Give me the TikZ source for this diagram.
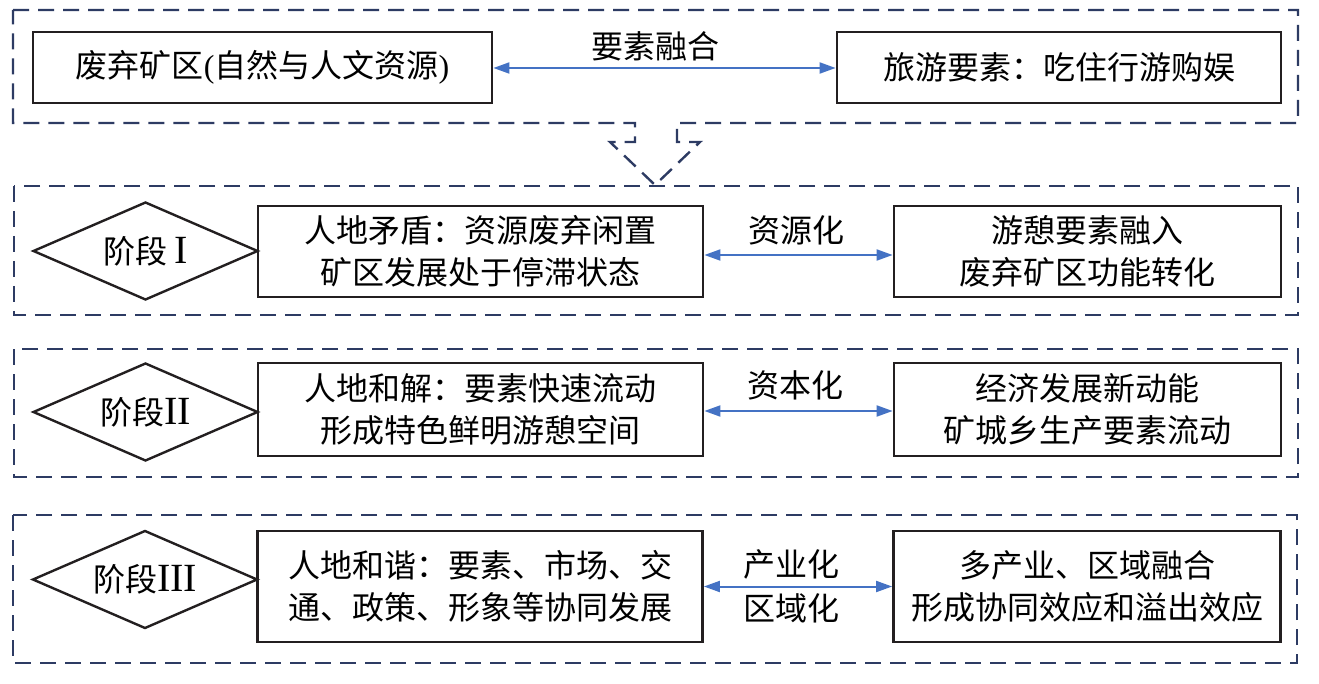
\documentclass[tikz,border=0pt]{standalone}
\usepackage{fontspec}
\setmainfont{Liberation Serif}
\newfontfamily\cjk{Noto Sans CJK SC}
\usetikzlibrary{shapes.geometric,arrows.meta}
\definecolor{navy}{HTML}{2D3B63}
\definecolor{boxline}{HTML}{231F20}
\definecolor{arrowblue}{HTML}{4472C4}
\newcommand{\romnum}[1]{{\rmfamily\fontsize{40}{42}\selectfont #1}}
\begin{document}
\begin{tikzpicture}[x=1pt,y=-1pt,
  frame/.style={draw=navy,line width=2.4pt,dash pattern=on 16pt off 9pt},
  txt/.style={font=\cjk\fontsize{32}{42}\selectfont,text=black},
  box/.style n args={2}{draw=boxline,line width=2.8pt,minimum width=#1,minimum height=#2,inner sep=0pt,align=center,txt},
  stage/.style={diamond,draw=boxline,line width=2.4pt,minimum width=225pt,minimum height=98pt,inner sep=0pt},
  biarrow/.style={draw=arrowblue,line width=2pt,{Triangle[length=16pt,width=11pt]}-{Triangle[length=16pt,width=11pt]}},
  lab/.style={txt,inner sep=0pt}
]
\useasboundingbox (0,0) rectangle (1319,684);
\fill[white] (0,0) rectangle (1319,684);

% frames
\draw[frame] (13,10) -- (1298,10) -- (1298,123) -- (677,123) -- (677,142) -- (700,142)
  -- (655,185) -- (610,142) -- (635,142) -- (635,123) -- (13,123) -- cycle;
\draw[frame] (14,186) rectangle (1298,315);
\draw[frame] (14,349) rectangle (1298,477);
\draw[frame] (13,515) rectangle (1297,663);

% top row
\node[box={459pt}{71pt}] (src) at (262.5,67.5) {废弃矿区{\rmfamily(}自然与人文资源{\rmfamily)}};
\node[box={444pt}{71pt}] (tour) at (1059,67.5) {旅游要素：吃住行游购娱};
\draw[biarrow] ([yshift=-0.5pt]src.east) -- ([yshift=-0.5pt]tour.west);
\node[lab] (l0) at (655,46) {要素融合};

% stage I
\node[stage] (s1) at (145.5,251) {};
\node[lab] (s1t) at (s1.center) {阶段 \romnum{I}};
\node[box={445pt}{91pt}] (m1) at (480.5,251.5) {人地矛盾：资源废弃闲置\\矿区发展处于停滞状态};
\node[box={387pt}{91pt}] (r1) at (1087.5,251.5) {游憩要素融入\\废弃矿区功能转化};
\draw[biarrow] ([yshift=-3.5pt]m1.east) -- ([yshift=-3.5pt]r1.west);
\node[lab] (l1) at (796,230) {资源化};

% stage II
\node[stage] (s2) at (145.5,412) {};
\node[lab] (s2t) at (s2.center) {阶段\romnum{II}};
\node[box={445pt}{93pt}] (m2) at (480.5,409.5) {人地和解：要素快速流动\\形成特色鲜明游憩空间};
\node[box={387pt}{93pt}] (r2) at (1087.5,409.5) {经济发展新动能\\矿城乡生产要素流动};
\draw[biarrow] ([yshift=-1.5pt]m2.east) -- ([yshift=-1.5pt]r2.west);
\node[lab] (l2) at (795,385) {资本化};

% stage III
\node[stage] (s3) at (145,579.5) {};
\node[lab] (s3t) at (s3.center) {阶段\romnum{III}};
\node[box={445pt}{111pt}] (m3) at (480,586.5) {人地和谐：要素、市场、交\\通、政策、形象等协同发展};
\node[box={387pt}{111pt}] (r3) at (1087,586.5) {多产业、区域融合\\形成协同效应和溢出效应};
\draw[biarrow] (m3.east) -- (r3.west);
\node[lab] (l3a) at (791,564) {产业化};
\node[lab] (l3b) at (791,608) {区域化};
\end{tikzpicture}
\end{document}
